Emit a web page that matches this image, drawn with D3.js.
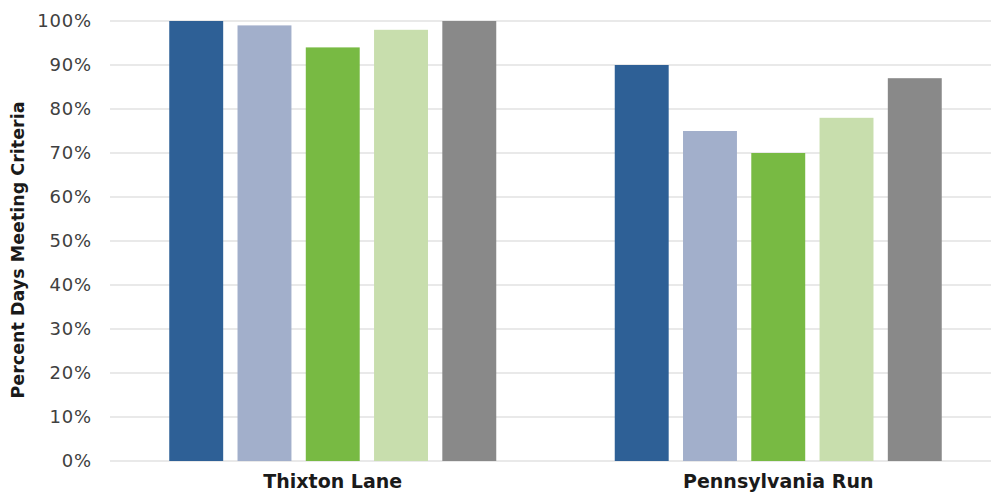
<!DOCTYPE html>
<html>
<head>
<meta charset="utf-8">
<script src="https://cdn.jsdelivr.net/npm/d3@7"></script>
<style>
  body { margin: 0; background: #fff; }
  text { font-family: "DejaVu Sans", sans-serif; }
</style>
</head>
<body>
<svg id="chart" width="991" height="499"></svg>
<script>
// Chart data
const sites = ["Thixton Lane", "Pennsylvania Run"];
const seriesNames = ["Series 1", "Series 2", "Series 3", "Series 4", "Series 5"];
const seriesColors = ["#2E6096", "#A2AFCB", "#78BA43", "#C8DEAD", "#898989"];
const thixtonValues = [100, 99, 94, 98, 100];
const pennRunValues = [90, 75, 70, 78, 87];
const yTicks = [0, 10, 20, 30, 40, 50, 60, 70, 80, 90, 100];

const valuesBySite = [thixtonValues, pennRunValues];

const svg = d3.select("#chart");
const margin = {top: 21, right: -10, bottom: 38, left: 110};
const width = +svg.attr("width") - margin.left - margin.right;
const height = +svg.attr("height") - margin.top - margin.bottom;
const g = svg.append("g").attr("transform", "translate(" + margin.left + "," + margin.top + ")");

const x0 = d3.scaleBand().domain(sites).range([0, width]).padding(0);
const groupWidth = x0.bandwidth() * 0.734;
const x1 = d3.scaleBand().domain(seriesNames)
    .range([(x0.bandwidth() - groupWidth) / 2, (x0.bandwidth() + groupWidth) / 2])
    .paddingInner(0.21).paddingOuter(0);
const y = d3.scaleLinear().domain([0, 100]).range([height, 0]);

// gridlines
g.append("g")
    .selectAll("line")
    .data(yTicks)
    .join("line")
    .attr("x1", 0)
    .attr("x2", width)
    .attr("y1", d => y(d))
    .attr("y2", d => y(d))
    .attr("stroke", "#e2e2e2")
    .attr("stroke-width", 1.5);

// bars
const groups = g.selectAll(".site")
    .data(sites)
    .join("g")
    .attr("class", "site")
    .attr("transform", d => "translate(" + x0(d) + ",0)");

groups.selectAll("rect")
    .data((d, i) => valuesBySite[i].map((v, j) => ({name: seriesNames[j], value: v, color: seriesColors[j]})))
    .join("rect")
    .attr("x", d => x1(d.name))
    .attr("width", x1.bandwidth())
    .attr("y", d => y(d.value))
    .attr("height", d => y(0) - y(d.value))
    .attr("fill", d => d.color);

// y axis labels
const yAxis = g.append("g")
    .call(d3.axisLeft(y).tickValues(yTicks).tickFormat(d => d + "%").tickSize(0).tickPadding(18));
yAxis.select(".domain").remove();
yAxis.selectAll("text")
    .attr("font-size", 18)
    .attr("letter-spacing", 0.8)
    .attr("fill", "#404040")
    .style("font-family", "\"DejaVu Sans\", sans-serif");

// x axis labels
const xAxis = g.append("g")
    .attr("transform", "translate(0," + height + ")")
    .call(d3.axisBottom(x0).tickSize(0).tickPadding(14));
xAxis.select(".domain").remove();
xAxis.selectAll("text")
    .attr("font-size", 19)
    .attr("font-weight", "bold")
    .attr("fill", "#1a1a1a")
    .style("font-family", "\"DejaVu Sans\", sans-serif");

// y axis title
svg.append("text")
    .attr("transform", "rotate(-90)")
    .attr("x", -250)
    .attr("y", 24)
    .attr("text-anchor", "middle")
    .attr("font-size", 17.5)
    .attr("font-weight", "bold")
    .attr("fill", "#1a1a1a")
    .text("Percent Days Meeting Criteria");
</script>
</body>
</html>
